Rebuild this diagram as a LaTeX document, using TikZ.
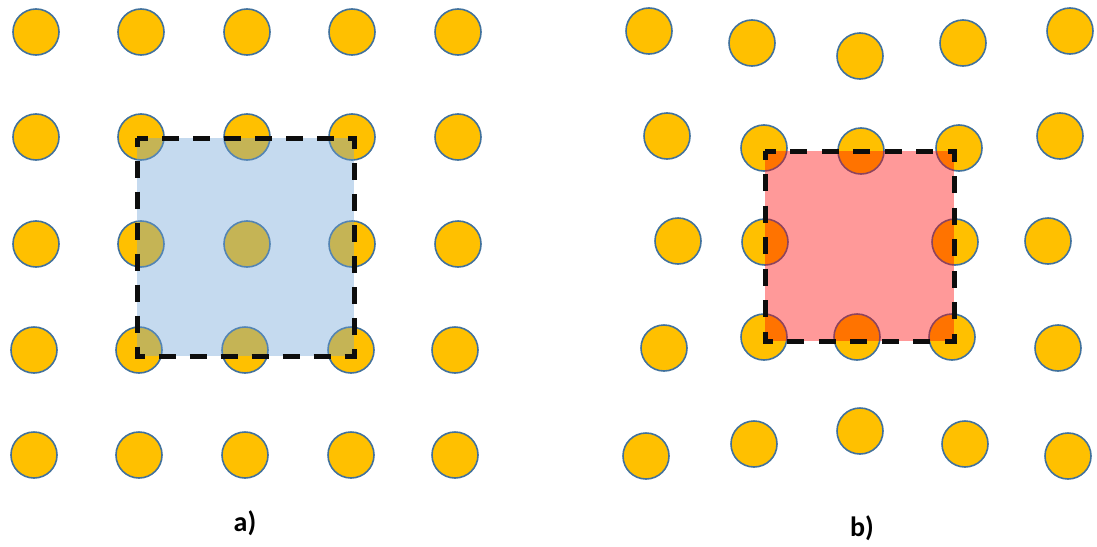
\documentclass[tikz,border=0pt]{standalone}
\usepackage{fontspec}
\setmainfont{Carlito}
\definecolor{dotfill}{HTML}{FFC000}
\definecolor{dotline}{HTML}{41719C}
\definecolor{bluefill}{HTML}{6FA2D6}
\definecolor{redfill}{HTML}{FF0000}
\tikzset{
  dot/.style={circle, draw=dotline, fill=dotfill, line width=1.6pt, minimum size=46pt, inner sep=0pt},
  cellA/.style={fill=bluefill, fill opacity=0.4, draw=none},
  cellB/.style={fill=redfill, fill opacity=0.4, draw=none},
  cellborder/.style={draw=black!95, line width=5pt},
  lbl/.style={font=\fontsize{28}{32}\selectfont\bfseries, inner sep=0pt}
}
\begin{document}
\begin{tikzpicture}[x=1pt,y=-1pt]
\useasboundingbox (0,0) rectangle (1097,546);
% ---- panel a: regular lattice
\foreach \r/\y in {1/32,2/137,3/244}{
  \foreach \c/\x in {1/36,2/141,3/247,4/352,5/458}{
    \node[dot] (a\r\c) at (\x,\y) {};
  }
}
\foreach \r/\y in {4/350,5/455}{
  \foreach \c/\x in {1/34,2/139,3/245,4/351,5/455}{
    \node[dot] (a\r\c) at (\x,\y) {};
  }
}
% ---- panel b: distorted lattice
\node[dot] (b11) at (649,31) {};
\node[dot] (b12) at (752,43) {};
\node[dot] (b13) at (860,56) {};
\node[dot] (b14) at (963,43) {};
\node[dot] (b15) at (1070,31) {};
\node[dot] (b21) at (667,136) {};
\node[dot] (b22) at (764,148) {};
\node[dot] (b23) at (861,151) {};
\node[dot] (b24) at (959,148) {};
\node[dot] (b25) at (1060,136) {};
\node[dot] (b31) at (678,241) {};
\node[dot] (b32) at (765,242) {};
\node[dot] (b34) at (955,242) {};
\node[dot] (b35) at (1048,241) {};
\node[dot] (b41) at (664,348) {};
\node[dot] (b42) at (764,337) {};
\node[dot] (b43) at (857,337) {};
\node[dot] (b44) at (952,337) {};
\node[dot] (b45) at (1058,348) {};
\node[dot] (b51) at (646,456) {};
\node[dot] (b52) at (754,444) {};
\node[dot] (b53) at (860,431) {};
\node[dot] (b54) at (965,444) {};
\node[dot] (b55) at (1068,456) {};
% ---- unit cells
\coordinate (ca1) at (137,138);
\coordinate (ca2) at (354,356);
\fill[cellA] (ca1) rectangle (ca2);
\draw[cellborder, dash pattern=on 17pt off 14pt, dash phase=8.5pt] (ca1) rectangle (ca2);
\coordinate (cb1) at (765,151);
\coordinate (cb2) at (954,341);
\fill[cellB] (cb1) rectangle (cb2);
\draw[cellborder, dash pattern=on 17pt off 14.5pt, dash phase=8.5pt] (cb1) rectangle (cb2);
% ---- labels
\node[lbl] (la) at (245,523) {a)};
\node[lbl] (lb) at (862,528) {b)};
\end{tikzpicture}
\end{document}
